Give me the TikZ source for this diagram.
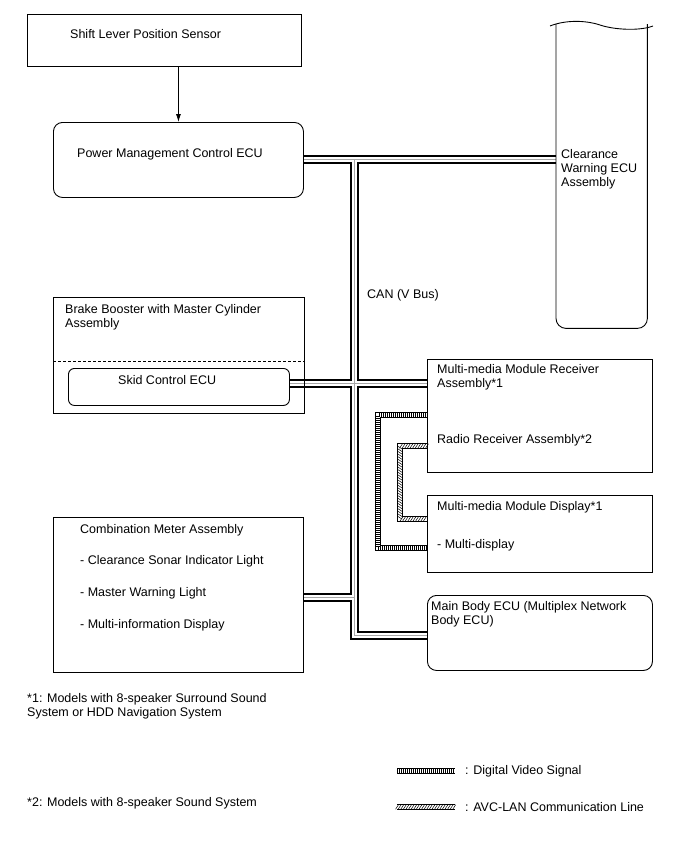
\documentclass[tikz,border=0pt]{standalone}
\usepackage{fontspec}
\setmainfont{Liberation Sans}
\usetikzlibrary{arrows.meta,backgrounds,decorations.pathreplacing,decorations.markings}

\begin{document}
\begin{tikzpicture}[
    x=1pt,
    y=-1pt,
    font=\fontsize{12.5}{14}\selectfont,
    unit/.style={draw, line width=0.9pt, inner sep=0pt, anchor=north west},
    ecu/.style={unit, rounded corners=9pt},
    lbl/.style={anchor=west, align=left, inner sep=0pt},
    bus/.style={
        line width=9pt,
        draw=black,
        line join=miter,
        postaction={draw=white, line width=5pt},
        postaction={draw=gray!70, line width=0.7pt}
    },
    dvsig/.style={
        line width=6pt,
        draw=black,
        postaction={draw=white, line width=4.4pt},
        postaction={decorate, draw=black, line width=0.5pt,
            decoration={ticks, segment length=2pt, amplitude=2.2pt}}
    },
    avclan/.style={
        line width=6pt,
        draw=black,
        postaction={draw=white, line width=4.4pt},
        postaction={decorate, decoration={markings,
            mark=between positions 0 and 1 step 2.6pt with
            {\draw[line width=0.5pt] (-1.4pt,-2.2pt) -- (1.4pt,2.2pt);}}}
    }
]
\useasboundingbox (0,0) rectangle (688,852);

% Units on the left
\node[unit, minimum width=274pt, minimum height=52pt] (slps) at (27,14) {};
\node[lbl] (slpstext) at (70,34) {Shift Lever Position Sensor};

\node[ecu, minimum width=250pt, minimum height=75pt] (pmecu) at (53,122) {};
\node[lbl] (pmecutext) at (77,154) {Power Management Control ECU};

\node[unit, minimum width=251pt, minimum height=116pt] (brake) at (53,297) {};
\node[lbl] (braketext) at (65,317) {Brake Booster with Master Cylinder\\Assembly};
\coordinate (dashy) at (0,361);
\draw[line width=0.9pt, dash pattern=on 3pt off 2pt]
    (brake.west |- dashy) -- (brake.east |- dashy);

\node[unit, rounded corners=6pt, minimum width=221pt, minimum height=37pt] (skid) at (68,368) {};
\node[lbl] (skidtext) at (118,380) {Skid Control ECU};

\node[unit, minimum width=250pt, minimum height=155pt] (cmeter) at (53,517) {};
\node[lbl] (cmetertext) at (80,530) {Combination Meter Assembly};
\node[lbl] (sonartext) at (80,561) {- Clearance Sonar Indicator Light};
\node[lbl] (warntext) at (80,593) {- Master Warning Light};
\node[lbl] (mitext) at (80,625) {- Multi-information Display};

% Clearance warning ECU (open, wavy top)
\node[inner sep=0pt, minimum width=91pt, minimum height=304pt, anchor=north west] (cwecu) at (556,24) {};
\draw[line width=0.9pt, rounded corners=10pt]
    (cwecu.north west) -- (cwecu.south west) -- (cwecu.south east) -- (cwecu.north east);
\draw[line width=0.9pt] (550,26) .. controls (565,20) and (585,20) .. (600,25)
    .. controls (615,30) and (640,31) .. (653,26);
\node[lbl] (cwecutext) at (561,169) {Clearance\\Warning ECU\\Assembly};

% Units on the right
\node[unit, minimum width=225pt, minimum height=113pt] (mmrecv) at (427,359) {};
\node[lbl] (mmrecvtext) at (437,377) {Multi-media Module Receiver\\Assembly*1};
\node[lbl] (radiotext) at (437,440) {Radio Receiver Assembly*2};

\node[unit, minimum width=225pt, minimum height=77pt] (mmdisp) at (427,495) {};
\node[lbl] (mmdisptext) at (437,507) {Multi-media Module Display*1};
\node[lbl] (mdtext) at (437,545) {- Multi-display};

\node[ecu, minimum width=225pt, minimum height=75pt] (mainbody) at (427,595) {};
\node[lbl] (mainbodytext) at (431,614) {Main Body ECU (Multiplex Network\\Body ECU)};

\node[lbl] (cantext) at (367,295) {CAN (V Bus)};

% Shift lever signal
\draw[line width=0.8pt, -{Latex[length=8pt, width=5pt]}]
    (slps.south -| pmecu.north) -- (pmecu.north);

% Bus junctions
\coordinate (jtop) at (354,159);
\coordinate (jskid) at (354,383);
\coordinate (jmeter) at (354,597);
\coordinate (jbot) at (354,635);

% Video and AVC-LAN corners
\coordinate (dvtop) at (378,415);
\coordinate (dvbot) at (378,548);
\coordinate (avtop) at (400,446);
\coordinate (avbot) at (400,519);

\begin{scope}[on background layer]
\path[bus] (pmecu.east |- jtop) -- (cwecu.west |- jtop)
    (jtop) -- (jbot) -- (mainbody.west |- jbot)
    (skid.east |- jskid) -- (mmrecv.west |- jskid)
    (cmeter.east |- jmeter) -- (jmeter);
\path[dvsig] (mmrecv.west |- dvtop) -- (dvtop) -- (dvbot) -- (mmdisp.west |- dvbot);
\path[avclan] (mmrecv.west |- avtop) -- (avtop) -- (avbot) -- (mmdisp.west |- avbot);
\end{scope}

% Notes
\node[lbl] (note1) at (27,706) {*1: Models with 8-speaker Surround Sound\\System or HDD Navigation System};
\node[lbl] (note2) at (27,803) {*2: Models with 8-speaker Sound System};

% Legend
\node[lbl] (dvlegend) at (465,771) {: Digital Video Signal};
\node[lbl] (avlegend) at (465,807) {: AVC-LAN Communication Line};
\coordinate (dvkey) at (397,771);
\coordinate (avkey) at (397,807);
\path[dvsig] (dvkey) -- ([xshift=-10pt]dvlegend.west);
\path[avclan] (avkey) -- ([xshift=-10pt]avlegend.west);

\end{tikzpicture}
\end{document}
